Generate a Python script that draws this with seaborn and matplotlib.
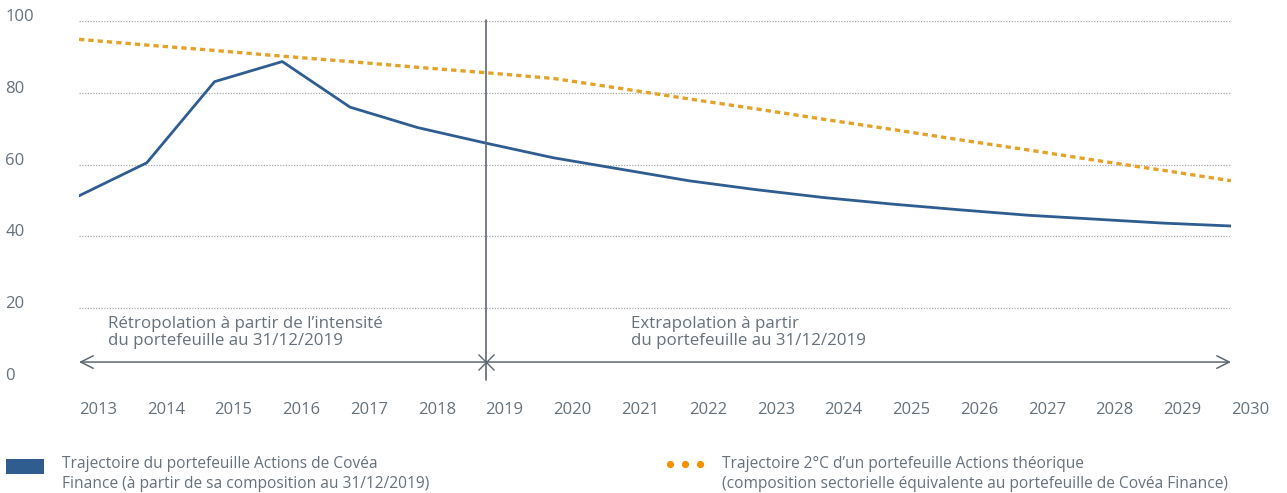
import matplotlib
matplotlib.use("Agg")
import matplotlib.pyplot as plt
import matplotlib.transforms as mtransforms
from matplotlib.patches import Rectangle
from matplotlib.lines import Line2D
from matplotlib.legend_handler import HandlerBase
import seaborn as sns
import pandas as pd

years = list(range(2013, 2031))
portefeuille = [51.3, 60.5, 83.1, 88.7, 76.0, 70.3, 66.0, 61.9, 58.7, 55.5,
                53.0, 50.8, 49.0, 47.4, 45.9, 44.8, 43.7, 42.9]
trajectoire_2c = [94.9, 93.3, 91.8, 90.2, 88.7, 87.1, 85.6, 84.0, 81.2, 78.3,
                  75.5, 72.6, 69.8, 66.9, 64.1, 61.2, 58.4, 55.5]
y_ticks = [0, 20, 40, 60, 80, 100]
split_year = 2019

label_blue = "Trajectoire du portefeuille Actions de Covéa\nFinance (à partir de sa composition au 31/12/2019)"
label_orange = "Trajectoire 2°C d’un portefeuille Actions théorique\n(composition sectorielle équivalente au portefeuille de Covéa Finance)"
txt_retro = "Rétropolation à partir de l’intensité\ndu portefeuille au 31/12/2019"
txt_extra = "Extrapolation à partir\ndu portefeuille au 31/12/2019"

BLUE = "#2f5d90"
GOLD = "#e2a328"
ORANGE = "#f39200"
GRAY = "#66717b"
AXGRAY = "#5d6873"

sns.set_style("white")
plt.rcParams["font.family"] = ["Open Sans", "DejaVu Sans"]

W, H = 1287, 493
fig = plt.figure(figsize=(W / 100, H / 100), dpi=100)
ax = fig.add_axes([79 / W, (H - 380) / H, (1231 - 79) / W, (380 - 21) / H])

df = pd.DataFrame({"year": years, "p": portefeuille, "t": trajectoire_2c})
sns.lineplot(data=df, x="year", y="p", ax=ax, color=BLUE, lw=2.0, zorder=4)
sns.lineplot(data=df, x="year", y="t", ax=ax, color=GOLD, lw=2.4,
             dashes=False, zorder=3).lines[-1].set_linestyle((0, (1.6, 1.2)))

ax.set_xlim(years[0], years[-1])
ax.set_ylim(0, 100)
ax.set_xticks(years)
ax.set_xticklabels([str(y) for y in years])
ax.set_yticks(y_ticks)
ax.set_yticklabels([str(v) for v in y_ticks])
ax.set_xlabel("")
ax.set_ylabel("")
for s in ax.spines.values():
    s.set_visible(False)

ax.tick_params(axis="both", length=0, labelsize=12, labelcolor=GRAY)
ax.tick_params(axis="x", pad=16)
ax.tick_params(axis="y", pad=53)
for lab in ax.get_xticklabels():
    lab.set_ha("left")
off = mtransforms.ScaledTranslation(0, 6 / 100, fig.dpi_scale_trans)
for lab in ax.get_yticklabels():
    lab.set_ha("left")
    lab.set_transform(lab.get_transform() + off)

ax.grid(axis="y", color="#a9a9a9", linestyle=(0, (1, 1.2)), lw=0.9)
ax.grid(axis="x", visible=False)
ax.yaxis.get_gridlines()[0].set_visible(False)

# vertical split
ax.axvline(split_year, 0, 1.004, color=AXGRAY, lw=1.2, zorder=5, clip_on=False)

# arrows
arr_y = 5.0
for end in (years[0], years[-1]):
    ax.annotate("", xy=(end, arr_y), xytext=(split_year, arr_y),
                arrowprops=dict(arrowstyle="->,head_length=0.9,head_width=0.45",
                                color=AXGRAY, lw=1.1, shrinkA=0, shrinkB=0))
ax.plot([split_year], [arr_y], marker="x", ms=11, mew=1.0, color=AXGRAY, zorder=6)

ax.text(2013.43, 13.3, txt_retro, ha="left", va="center", fontsize=12.2,
        color=GRAY, linespacing=1.1)
ax.text(2021.15, 13.3, txt_extra, ha="left", va="center", fontsize=12.2,
        color=GRAY, linespacing=1.1)


# legends with handles aligned on the first text line
class TopHandler(HandlerBase):
    def __init__(self, kind):
        super().__init__()
        self.kind = kind

    def create_artists(self, legend, orig_handle, xdescent, ydescent, width,
                       height, fontsize, trans):
        line_h = height / 2.0
        yc = -ydescent + height - line_h / 2.0
        if self.kind == "rect":
            rh = 15 * 72 / 100
            art = Rectangle((-xdescent, yc - rh / 2 + 1.5), width, rh,
                            facecolor=BLUE, edgecolor="none", transform=trans)
            return [art]
        xs = [-xdescent + width * f for f in (0.08, 0.5, 0.92)]
        art = Line2D(xs, [yc + 3.5] * 3, linestyle="none", marker="o", ms=4.2,
                     color=ORANGE, transform=trans)
        return [art]


FS_LEG = 11.2
leg_y = (H - 474) / H
h1 = Rectangle((0, 0), 1, 1)
leg1 = fig.legend([h1], [label_blue], loc="center left",
                  bbox_to_anchor=(6 / W, leg_y),
                  frameon=False, fontsize=FS_LEG, handlelength=2.45,
                  handleheight=2.2, handletextpad=1.15, borderaxespad=0,
                  borderpad=0, handler_map={h1: TopHandler("rect")})
for t in leg1.get_texts():
    t.set_color(GRAY)
    t.set_linespacing(1.3)
h2 = Line2D([], [])
leg2 = fig.legend([h2], [label_orange], loc="center left",
                  bbox_to_anchor=(667 / W, leg_y),
                  frameon=False, fontsize=FS_LEG, handlelength=2.3,
                  handleheight=2.2, handletextpad=1.25, borderaxespad=0,
                  borderpad=0, handler_map={h2: TopHandler("dots")})
for t in leg2.get_texts():
    t.set_color(GRAY)
    t.set_linespacing(1.3)

fig.savefig("out.png", dpi=100)
